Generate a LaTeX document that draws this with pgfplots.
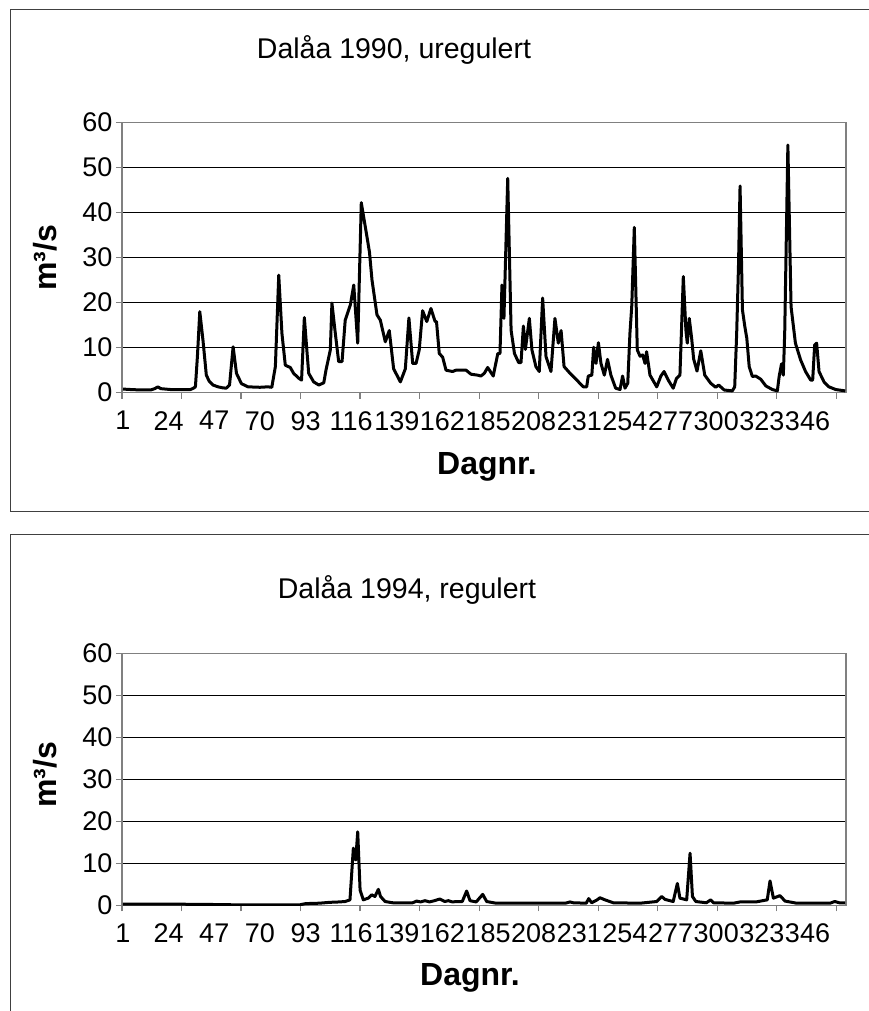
\documentclass[border=0pt]{standalone}
\usepackage{fontspec}
\setmainfont{Liberation Sans}
\usepackage{pgfplots}
\pgfplotsset{compat=1.18}
\definecolor{framec}{HTML}{808080}
\definecolor{boxc}{HTML}{404040}
\begin{document}
\begin{tikzpicture}[x=1pt,y=1pt]
\useasboundingbox (0,0) rectangle (869,1011);
\clip (0,0) rectangle (869,1011);
\draw[boxc, line width=1pt] (10,1001) rectangle (900,499);
\draw[boxc, line width=1pt] (10,476) rectangle (900,-20);
\pgfplotsset{myax/.style={
  scale only axis, width=724.2pt,
  xmin=0.5, xmax=365.5, ymin=0, ymax=60,
  ytick={0,10,...,60}, minor ytick={0,10,...,60},
  xtick={1,24,...,346}, minor xtick={0.5,30.5,...,360.5},
  major tick length=0pt, minor tick length=6pt,
  tick align=outside, xtick pos=bottom, ytick pos=left,
  minor tick style={framec, line width=1.2pt},
  ymajorgrids, major grid style={black, line width=1pt},
  axis line style={framec, line width=1.5pt},
  /pgf/number format/assume math mode=true,
  tick label style={font=\fontsize{27}{30}\selectfont, text=black},
  xticklabel style={yshift=-15pt},
  yticklabel style={xshift=-6pt},
}}
\begin{axis}[myax, at={(122pt,618.3pt)}, anchor=south west, height=270.2pt]
\addplot[black, line width=3pt, line join=round] coordinates {
(1,0.8) (5,0.7) (10,0.6) (15,0.6) (17,0.9) (18.6,1.3) (20,0.9) (25,0.7) (30,0.7) (35,0.7) (36.5,1.0) (37.5,1.3) (38.5,8) (39.7,18.0) (41.3,11.7) (43,3.9) (44.5,2.5) (46.4,1.7) (48.9,1.3) (51,1.1) (53,1.0) (54.7,1.7) (56.5,10.2) (58.2,4.3) (60.7,2.0) (64,1.3) (70,1.2) (74,1.3) (76,1.2) (77.8,5.8) (79.5,26.1) (81.1,13.2) (82.8,6.1) (85.3,5.6) (87,4.3) (89.6,3.2) (91,2.8) (92.4,16.7) (93.8,8.7) (94.6,4.3) (97.1,2.4) (99.7,1.7) (102.2,2.2) (103.3,5.0) (105.5,9.5) (106.3,19.9) (108,13.2) (109.7,6.9) (111.4,6.9) (113,16.1) (115.6,19.5) (117.3,23.9) (119.3,11.0) (121.1,42.2) (123.1,36.9) (125.2,31.3) (126.5,25.0) (129,17.3) (130.7,16.1) (133.2,11.3) (135.2,13.8) (137.4,5.3) (140.8,2.4) (143.3,5.3) (145.1,16.6) (147,6.5) (148.7,6.5) (150.3,9.5) (152,18.2) (154.1,15.8) (156.2,18.7) (158.3,15.8) (159,15.8) (160.4,8.7) (162.1,7.9) (163.8,5.0) (167.1,4.7) (168.8,5.0) (173.9,5.0) (176.4,4.1) (179.7,3.9) (181.4,3.7) (183.1,4.3) (184.8,5.6) (187.6,3.7) (189.9,8.7) (191,8.7) (192,23.9) (193,16.5) (194.9,47.6) (196.6,13.9) (198.3,8.7) (200.4,6.7) (201.6,6.7) (202.8,14.8) (203.8,9.6) (205.8,16.5) (207.1,9.5) (209.1,5.8) (210.8,4.7) (212.5,21.0) (214.2,8.0) (216.7,4.7) (218.7,16.5) (220.4,11.0) (221.8,13.8) (223.3,5.8) (226.3,4.3) (229.7,2.8) (233,1.3) (234.7,1.3) (235.5,3.7) (237.3,3.9) (238.2,10.1) (239.4,6.5) (240.6,11.1) (241.9,6.5) (243.6,3.9) (245.2,7.4) (246.9,3.9) (249.3,1.0) (251.5,0.7) (252.8,3.7) (254,1.0) (255.4,2.1) (256.5,13.2) (257.4,19.1) (258.7,36.7) (260.2,9.5) (261.6,8.1) (262.9,8.4) (264.1,6.5) (264.9,9.1) (266.6,3.9) (270,1.3) (272.1,3.7) (273.7,4.7) (275.8,2.8) (278.3,1.0) (280,3.2) (281.7,3.9) (283.4,25.8) (284.7,13.9) (285.4,11.0) (286.4,16.5) (287.6,12.1) (288.6,7.5) (290.3,4.8) (292.2,9.3) (294.2,3.9) (297.2,2.1) (299.7,1.2) (301.2,1.7) (304,0.6) (308.1,0.4) (309.3,1.3) (310.3,13.2) (311.2,28) (312,45.9) (313.2,18.4) (314.4,14.7) (315.4,12.1) (316.6,5.8) (318.2,3.6) (319.9,3.7) (322.4,3.0) (325,1.5) (328.3,0.7) (330.8,0.4) (331.7,3.6) (332.9,6.4) (333.8,3.9) (334.5,13.2) (336.1,55.0) (337.7,19.1) (339.9,11.0) (342.5,7.3) (345,4.7) (347.6,2.8) (348.6,2.8) (349.6,10.6) (350.6,11.0) (351.8,4.7) (354.3,2.4) (356.8,1.3) (360.2,0.7) (365,0.4)
};
\end{axis}
\begin{axis}[myax, at={(122pt,105.7pt)}, anchor=south west, height=252pt]
\addplot[black, line width=3pt, line join=round] coordinates {
(1,0.3) (20,0.3) (45,0.2) (60,0.1) (90,0.1) (93,0.4) (100,0.5) (105,0.7) (110,0.8) (113,0.9) (115.4,1.3) (117.1,13.6) (118.3,10.8) (119.3,17.5) (120.5,3.6) (122.1,1.3) (124.6,1.7) (126.3,2.5) (128,2.1) (129.7,3.8) (130.8,2.1) (133.1,0.9) (137,0.6) (147,0.6) (149,1.0) (151,0.8) (153.2,1.1) (155.5,0.8) (158,1.1) (160.7,1.5) (163.2,0.9) (165,1.1) (167,0.8) (169.2,0.9) (172,0.9) (174.2,3.4) (175.9,1.1) (179,0.8) (182.3,2.6) (184.3,0.9) (189,0.5) (200,0.5) (224,0.5) (226.3,0.8) (228,0.6) (234.5,0.5) (235.7,1.6) (237.2,0.6) (240,1.3) (241.4,1.8) (243.9,1.3) (248.1,0.6) (261.6,0.5) (270,0.9) (272.5,2.1) (274.2,1.4) (278.3,0.9) (280.4,5.2) (281.7,1.7) (285.1,1.3) (286.8,12.4) (288,2.1) (289.7,0.9) (295,0.6) (297.2,1.3) (298.6,0.6) (308.7,0.5) (312,0.8) (320,0.8) (325.7,1.3) (327.1,5.8) (328.8,1.7) (332.1,2.3) (334.7,1.0) (340.5,0.5) (357.3,0.5) (359.8,0.9) (362,0.6) (365,0.6)
};
\end{axis}
\node[font=\fontsize{28.5}{34}\selectfont] at (394,961) {Dalåa 1990, uregulert};
\node[font=\fontsize{32}{38}\selectfont\bfseries] at (487,544) {Dagnr.};
\node[font=\fontsize{32}{38}\selectfont\bfseries, rotate=90] at (45,753) {m³/s};
\node[font=\fontsize{28.5}{34}\selectfont] at (407,421) {Dalåa 1994, regulert};
\node[font=\fontsize{32}{38}\selectfont\bfseries] at (470,33) {Dagnr.};
\node[font=\fontsize{32}{38}\selectfont\bfseries, rotate=90] at (45,236) {m³/s};
\end{tikzpicture}
\end{document}
